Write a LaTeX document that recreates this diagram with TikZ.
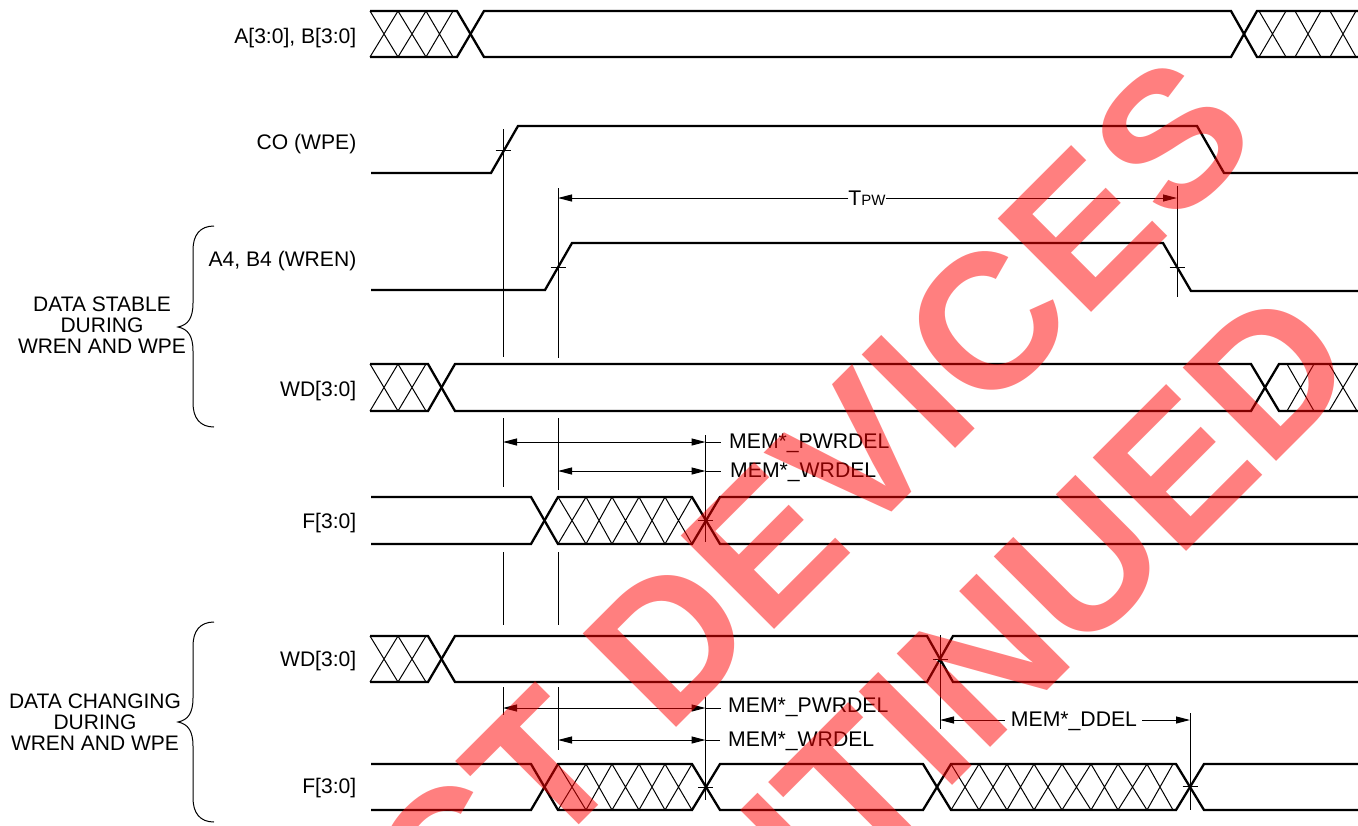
\documentclass[tikz,border=0pt]{standalone}
\usepackage{fontspec}
\setmainfont{Liberation Sans}
\usetikzlibrary{arrows.meta,positioning}
\definecolor{wmred}{HTML}{FF0000}
\newcommand{\xcells}[3]{\foreach \xa/\xb in {#3} {\draw[hatchln] (\xa,#1) -- (\xb,#2) (\xa,#2) -- (\xb,#1);}}
\begin{document}
\begin{tikzpicture}[x=1pt,y=-1pt,
 busln/.style={line width=2.3pt,black,line join=miter},
 hatchln/.style={line width=1pt,black},
 thinln/.style={line width=1pt,black},
 dimln/.style={line width=1pt,black,-{Triangle[length=14pt,width=7pt]}},
 sig/.style={font=\fontsize{21.1}{21}\selectfont,anchor=east,inner sep=0pt},
 grp/.style={font=\fontsize{21}{21}\selectfont,align=center,inner sep=0pt},
 dlab/.style={font=\fontsize{21.2}{21}\selectfont,anchor=west,inner sep=0pt},
 wm/.style={font=\fontsize{192}{192}\selectfont\bfseries,text=wmred,text opacity=0.5,rotate=45,inner sep=0pt,anchor=base east}]
\useasboundingbox (0,0) rectangle (1358,825);
\node[sig] (lab) at (356.5,38.5) {A[3:0], B[3:0]};
\node[sig] (lco) at (356.5,144.5) {CO (WPE)};
\node[sig] (lwren) at (356.5,261.5) {A4, B4 (WREN)};
\node[sig] (lwda) at (356.5,391.5) {WD[3:0]};
\node[sig] (lfa) at (356.5,523.5) {F[3:0]};
\node[sig] (lwdb) at (356.5,661.5) {WD[3:0]};
\node[sig] (lfb) at (356.5,788.5) {F[3:0]};
\node[grp] (gstable) at (102,325) {DATA STABLE\\DURING\\WREN AND WPE};
\node[grp] (gchange) at (95,722) {DATA CHANGING\\DURING\\WREN AND WPE};
\draw[thinln] (214,226) .. controls (200,226) and (193,235) .. (193,250) -- (193,303) .. controls (193,318) and (188,325) .. (178,327) .. controls (188,329) and (193,336) .. (193,351) -- (193,403) .. controls (193,418) and (200,427) .. (214,427);
\draw[thinln] (214,622) .. controls (200,622) and (193,631) .. (193,646) -- (193,698) .. controls (193,713) and (188,720) .. (178,722) .. controls (188,724) and (193,731) .. (193,746) -- (193,798) .. controls (193,813) and (200,822) .. (214,822);
% A, B
\draw[busln] (370,11) -- (457,11) -- (484,57) -- (1231,57) -- (1257,11) -- (1358,11);
\draw[busln] (370,57) -- (457,57) -- (484,11) -- (1231,11) -- (1257,57) -- (1358,57);
\xcells{11}{57}{370/398,398/426,426/453,1259/1286,1295/1321,1330/1356}
% CO, WREN
\draw[busln] (371,173) -- (491,173) -- (518,126) -- (1197,126) -- (1224,173) -- (1358,173);
\draw[busln] (371,290) -- (545,290) -- (572,243) -- (1163,243) -- (1191,291) -- (1358,291);
% WD
\draw[busln] (370,364) -- (428,364) -- (455,411) -- (1251,411) -- (1279,364) -- (1358,364);
\draw[busln] (370,411) -- (428,411) -- (455,364) -- (1251,364) -- (1279,411) -- (1358,411);
\xcells{364}{411}{370/398,398/426,1287/1314,1329/1357}
% F
\draw[busln] (371,497) -- (531,497) -- (558,544) -- (692,544) -- (720,497) -- (1358,497);
\draw[busln] (371,544) -- (531,544) -- (558,497) -- (692,497) -- (720,544) -- (1358,544);
\xcells{497}{544}{558/586,586/612,612/639,639/665,665/692}
% WD, data changing
\draw[busln] (370,636) -- (428,636) -- (455,682) -- (927,682) -- (953,636) -- (1358,636);
\draw[busln] (370,682) -- (428,682) -- (455,636) -- (927,636) -- (953,682) -- (1358,682);
\xcells{636}{682}{370/398,398/426}
% F, data changing
\draw[busln] (371,764) -- (531,764) -- (558,810) -- (692,810) -- (720,764) -- (923,764) -- (951,810) -- (1176,810) -- (1204,764) -- (1358,764);
\draw[busln] (371,810) -- (531,810) -- (558,764) -- (692,764) -- (720,810) -- (923,810) -- (951,764) -- (1176,764) -- (1204,810) -- (1358,810);
\xcells{764}{810}{558/586,586/612,612/639,639/665,665/692,951/979,979/1007,1007/1034,1034/1062,1062/1091,1091/1118,1118/1147,1147/1173}
% vertical guides
\foreach \gx/\ga/\gb in {503/129/357,503/418/487,503/552/625,503/687/715,558/188/358,558/418/490,558/552/625,558/687/750,1177/186/297,705.5/435/542,705.5/697/800,940/635/729,1190/713/810} {\draw[thinln] (\gx,\ga) -- (\gx,\gb);}
\foreach \tx/\ty in {503/150,558/267,1177/267,705.5/520,705.5/787,940/659,1190/786} {\draw[thinln] (\tx-7.5,\ty) -- (\tx+7.5,\ty);}
% TPW
\node[inner sep=0pt,font=\fontsize{21.2}{21}\selectfont] (tpw) at (867,198) {T{\fontsize{15}{15}\selectfont PW}};
\coordinate (tpwa) at (558,198);
\coordinate (tpwb) at (1177,198);
\draw[dimln] (tpw) -- (tpwa);
\draw[dimln] (tpw) -- (tpwb);
% delays
\node[dlab] (pwa) at (729,443.5) {MEM*\_PWRDEL};
\node[dlab] (wra) at (730,472.5) {MEM*\_WRDEL};
\node[dlab] (pwb) at (728,707.5) {MEM*\_PWRDEL};
\node[dlab] (wrb) at (728,741.5) {MEM*\_WRDEL};
\node[font=\fontsize{21.2}{21}\selectfont,inner sep=0pt] (ddel) at (1074,721) {MEM*\_DDEL};
\coordinate (pwal) at (503,442); \coordinate (pwar) at (705.5,442); \coordinate (pwae) at (721,442);
\coordinate (wral) at (558,471); \coordinate (wrar) at (705.5,471); \coordinate (wrae) at (721,471);
\coordinate (pwbl) at (503,708); \coordinate (pwbr) at (705.5,708); \coordinate (pwbe) at (721,708);
\coordinate (wrbl) at (558,740); \coordinate (wrbr) at (705.5,740); \coordinate (wrbe) at (720,740);
\coordinate (ddl) at (940,720); \coordinate (ddr) at (1190,720);
\foreach \n in {pwa,wra,pwb,wrb} {
 \draw[thinln,{Triangle[length=14pt,width=7pt]}-{Triangle[length=14pt,width=7pt]}] (\n l) -- (\n r);
 \draw[thinln] (\n r) -- (\n e);
}
\draw[dimln] (1005,720) -- (ddl);
\draw[dimln] (1142,720) -- (ddr);
% watermark
\begin{scope}
\clip (0,0) rectangle (1358,825);
\node[wm] (wmone) at (1264,140) {CT DEVICES};
\node[wm] (wmtwo) at (1366,372) {NTINUED};
\end{scope}
\end{tikzpicture}
\end{document}
